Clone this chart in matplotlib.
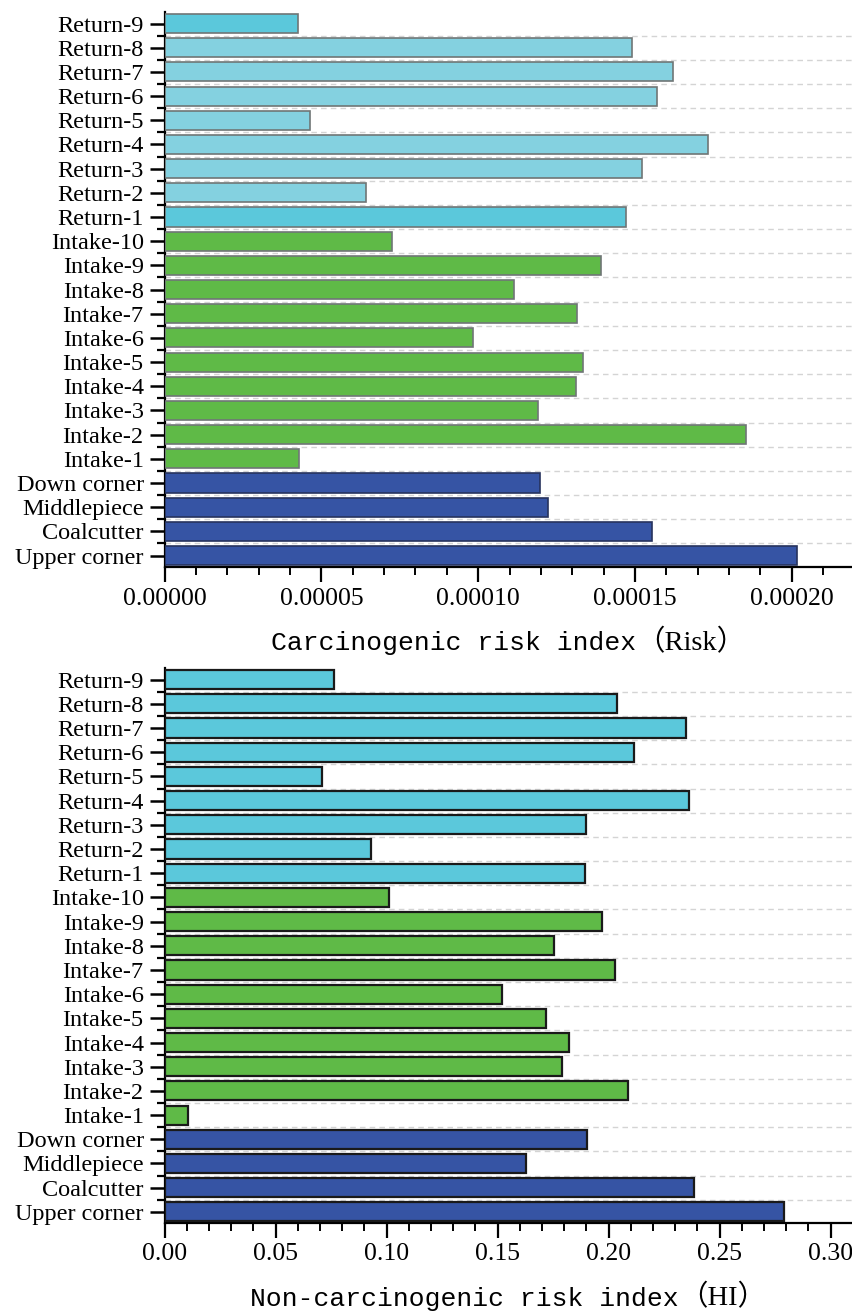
import matplotlib.pyplot as plt
from matplotlib.ticker import FixedLocator, MultipleLocator, FormatStrFormatter
from matplotlib.offsetbox import TextArea, HPacker, AnchoredOffsetbox

# Sampling sites, listed from the bottom of the chart to the top
sites = ['Upper corner', 'Coalcutter', 'Middlepiece', 'Down corner',
         'Intake-1', 'Intake-2', 'Intake-3', 'Intake-4', 'Intake-5',
         'Intake-6', 'Intake-7', 'Intake-8', 'Intake-9', 'Intake-10',
         'Return-1', 'Return-2', 'Return-3', 'Return-4', 'Return-5',
         'Return-6', 'Return-7', 'Return-8', 'Return-9']

# Carcinogenic risk (Risk)
risk = [0.0002016, 0.0001553, 0.0001222, 0.0001197,
        0.0000428, 0.0001854, 0.0001190, 0.0001311, 0.0001334,
        0.0000983, 0.0001315, 0.0001114, 0.0001391, 0.0000726,
        0.0001470, 0.0000642, 0.0001524, 0.0001733, 0.0000463,
        0.0001569, 0.0001620, 0.0001489, 0.0000427]

# Non-carcinogenic risk (HI)
hi = [0.2788, 0.2386, 0.1627, 0.1901,
      0.0108, 0.2088, 0.1791, 0.1820, 0.1716,
      0.1519, 0.2030, 0.1755, 0.1971, 0.1009,
      0.1895, 0.0932, 0.1896, 0.2360, 0.0709,
      0.2115, 0.2348, 0.2039, 0.0764]

BLUE = '#3654a4'
GREEN = '#5fba47'
CYAN = '#5bc8db'
CYAN_LIGHT = '#84d1e0'


def site_color(name, light=True):
    if name.startswith('Intake'):
        return GREEN
    if name.startswith('Return'):
        if light and name not in ('Return-1', 'Return-9'):
            return CYAN_LIGHT
        return CYAN
    return BLUE


plt.rcParams['font.family'] = ['Liberation Serif', 'DejaVu Serif']

fig = plt.figure(figsize=(8.52, 13.16), dpi=100)
W, H = 852.0, 1316.0
ax1 = fig.add_axes([164.5 / W, 1 - 566.7 / H, (W - 164.5) / W, (566.7 - 11.7) / H])
ax2 = fig.add_axes([164.5 / W, 1 - 1222.5 / H, (W - 164.5) / W, (1222.5 - 668.3) / H])

ypos = list(range(len(sites)))

# top panel: light cyan with two highlighted return sites, grey outlines
top_colors = [site_color(s) for s in sites]
top_edges = ['#27335e' if c == BLUE else '#6f7676' for c in top_colors]
ax1.barh(ypos, risk, height=0.79, color=top_colors, edgecolor=top_edges,
         linewidth=1.2, zorder=3)

# bottom panel: black outlines
bot_colors = [site_color(s, light=False) for s in sites]
ax2.barh(ypos, hi, height=0.79, color=bot_colors, edgecolor='#1a1a1a',
         linewidth=1.6, zorder=3)


def style_axis(ax, xmax, major, fmt, ylo, yhi):
    ax.set_xlim(0, xmax)
    ax.set_ylim(ylo, yhi)
    for side in ('top', 'right'):
        ax.spines[side].set_visible(False)
    for side in ('left', 'bottom'):
        ax.spines[side].set_linewidth(1.6)
        ax.spines[side].set_color('black')
    ax.set_yticks(ypos)
    ax.set_yticklabels(sites, fontsize=17.5)
    ax.yaxis.set_minor_locator(FixedLocator([y + 0.5 for y in ypos[:-1]] + [-0.5, ypos[-1] + 0.5]))
    ax.xaxis.set_major_locator(MultipleLocator(major))
    ax.xaxis.set_minor_locator(MultipleLocator(major / 5))
    ax.xaxis.set_major_formatter(FormatStrFormatter(fmt))
    ax.tick_params(axis='y', which='major', direction='out', length=11, width=1.8, pad=4)
    ax.tick_params(axis='y', which='minor', direction='out', length=6, width=1.6)
    ax.tick_params(axis='x', which='major', direction='out', length=11, width=1.6,
                   labelsize=18.5, pad=4)
    ax.tick_params(axis='x', which='minor', direction='out', length=6, width=1.4)
    ax.grid(axis='y', which='minor', color='#d4d4d4', linestyle=(0, (4, 3)),
            linewidth=1.0, zorder=0)
    ax.set_axisbelow(True)


style_axis(ax1, 0.0002192, 0.00005, '%.5f', -0.46, 22.49)
style_axis(ax2, 0.3096, 0.05, '%.2f', -0.44, 22.47)


def add_xlabel(ax, words, unit, y):
    left = TextArea(words, textprops=dict(family=['Liberation Mono', 'DejaVu Sans Mono'],
                                          fontsize=19, color='black'))
    right = TextArea(unit, textprops=dict(family=['Liberation Serif', 'Noto Sans CJK SC'],
                                          fontsize=20.5, color='black'))
    box = HPacker(children=[left, right], align='baseline', pad=0, sep=0)
    anchored = AnchoredOffsetbox(loc='upper center', child=box, pad=0, borderpad=0,
                                 frameon=False, bbox_to_anchor=(0.5, y),
                                 bbox_transform=ax.transAxes)
    ax.add_artist(anchored)


add_xlabel(ax1, 'Carcinogenic risk index', '（Risk）', -0.112)
add_xlabel(ax2, 'Non-carcinogenic risk index', '（HI）', -0.112)

fig.savefig('out.png', dpi=100)
